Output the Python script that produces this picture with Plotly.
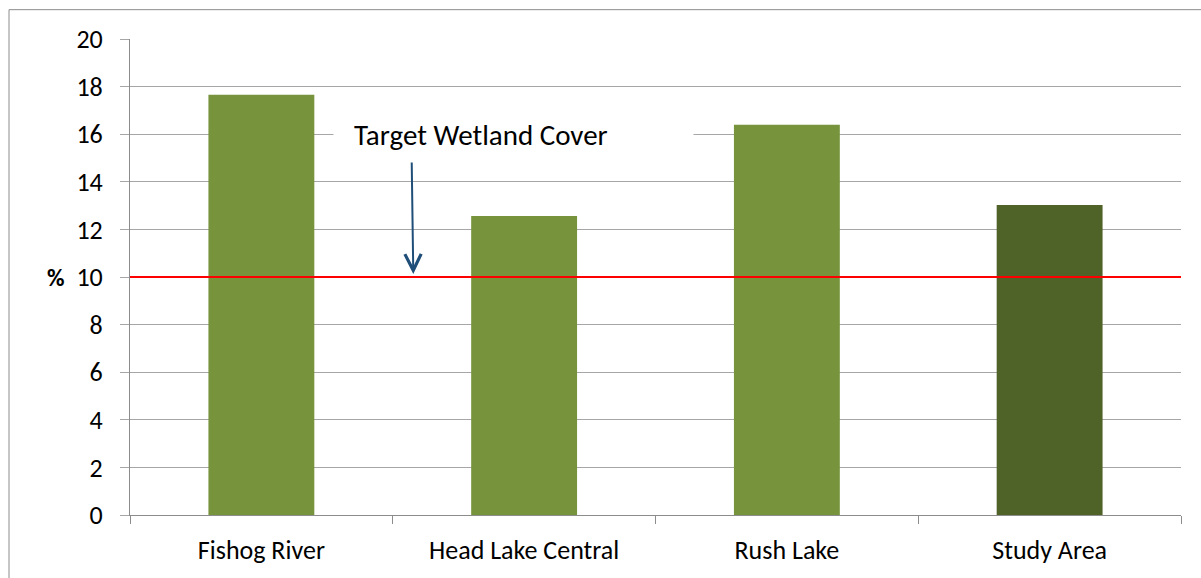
import plotly.graph_objects as go

categories = ["Fishog River", "Head Lake Central", "Rush Lake", "Study Area"]
values = [17.66, 12.56, 16.4, 13.02]
bar_colors = ["#77933C", "#77933C", "#77933C", "#4F6228"]
target_value = 10
y_ticks = list(range(0, 21, 2))

W, H = 1201, 578
L, R, T, B = 130, 20, 39, 60
pw, ph = W - L - R, H - T - B

def px_x(x):
    return (x - L) / pw

def px_y(y):
    return (H - B - y) / ph

font = "Carlito, Calibri, Lato, sans-serif"
grid = "#a6a6a6"
axis_col = "#8c8c8c"

fig = go.Figure()
fig.add_trace(go.Bar(x=categories, y=values, marker=dict(color=bar_colors, line=dict(width=0)),
                     hoverinfo="x+y"))

fig.update_layout(
    width=W, height=H,
    margin=dict(l=L, r=R, t=T, b=B),
    paper_bgcolor="white", plot_bgcolor="white",
    bargap=0.597,
    showlegend=False,
    font=dict(family=font, size=26, color="black"),
    xaxis=dict(
        showgrid=False, showline=True, linecolor=axis_col, linewidth=1,
        ticks="outside", tickson="boundaries", ticklen=8, tickcolor=axis_col,
        tickfont=dict(size=26), ticklabelstandoff=12, fixedrange=True,
    ),
    yaxis=dict(
        range=[0, 20], tickvals=y_ticks, showgrid=True, gridcolor=grid, gridwidth=1,
        showline=True, linecolor=axis_col, linewidth=1, zeroline=False,
        ticks="outside", ticklen=9, tickcolor=grid,
        tickfont=dict(size=26), ticklabelstandoff=12, fixedrange=True,
    ),
    shapes=[
        # outer border (only left and top visible in view)
        dict(type="rect", xref="paper", yref="paper",
             x0=px_x(9), x1=px_x(1210), y0=px_y(590), y1=px_y(9.5),
             line=dict(color=axis_col, width=1), fillcolor="rgba(0,0,0,0)", layer="below"),
        # target line
        dict(type="line", xref="paper", yref="y", x0=0, x1=1, y0=target_value, y1=target_value,
             line=dict(color="#ff0000", width=2), layer="above"),
    ],
    annotations=[
        # white background box behind the label (hides the gridline)
        dict(text=" ", xref="paper", yref="y", x=px_x(333), y=16,
             showarrow=False, xanchor="left", yanchor="middle",
             width=359, height=22, bgcolor="white", borderpad=0),
        dict(text="Target Wetland Cover", xref="paper", yref="y", x=px_x(481), y=15.95,
             showarrow=False, font=dict(size=29, family=font), xanchor="center", yanchor="middle"),
        dict(text="", xref="paper", yref="y", x=px_x(413.3), y=10.13,
             ax=-1.6, ay=-113, showarrow=True, arrowhead=5, arrowsize=1.6, arrowwidth=2,
             arrowcolor="#1f4e79"),
        dict(text="<b>%</b>", xref="paper", yref="y", x=px_x(56), y=10,
             showarrow=False, font=dict(size=24, family=font), xanchor="center", yanchor="middle"),
    ],
)

fig.write_html("out.html", config={"displayModeBar": False},
               post_script="document.body.style.margin='0';document.body.style.overflow='hidden';")
